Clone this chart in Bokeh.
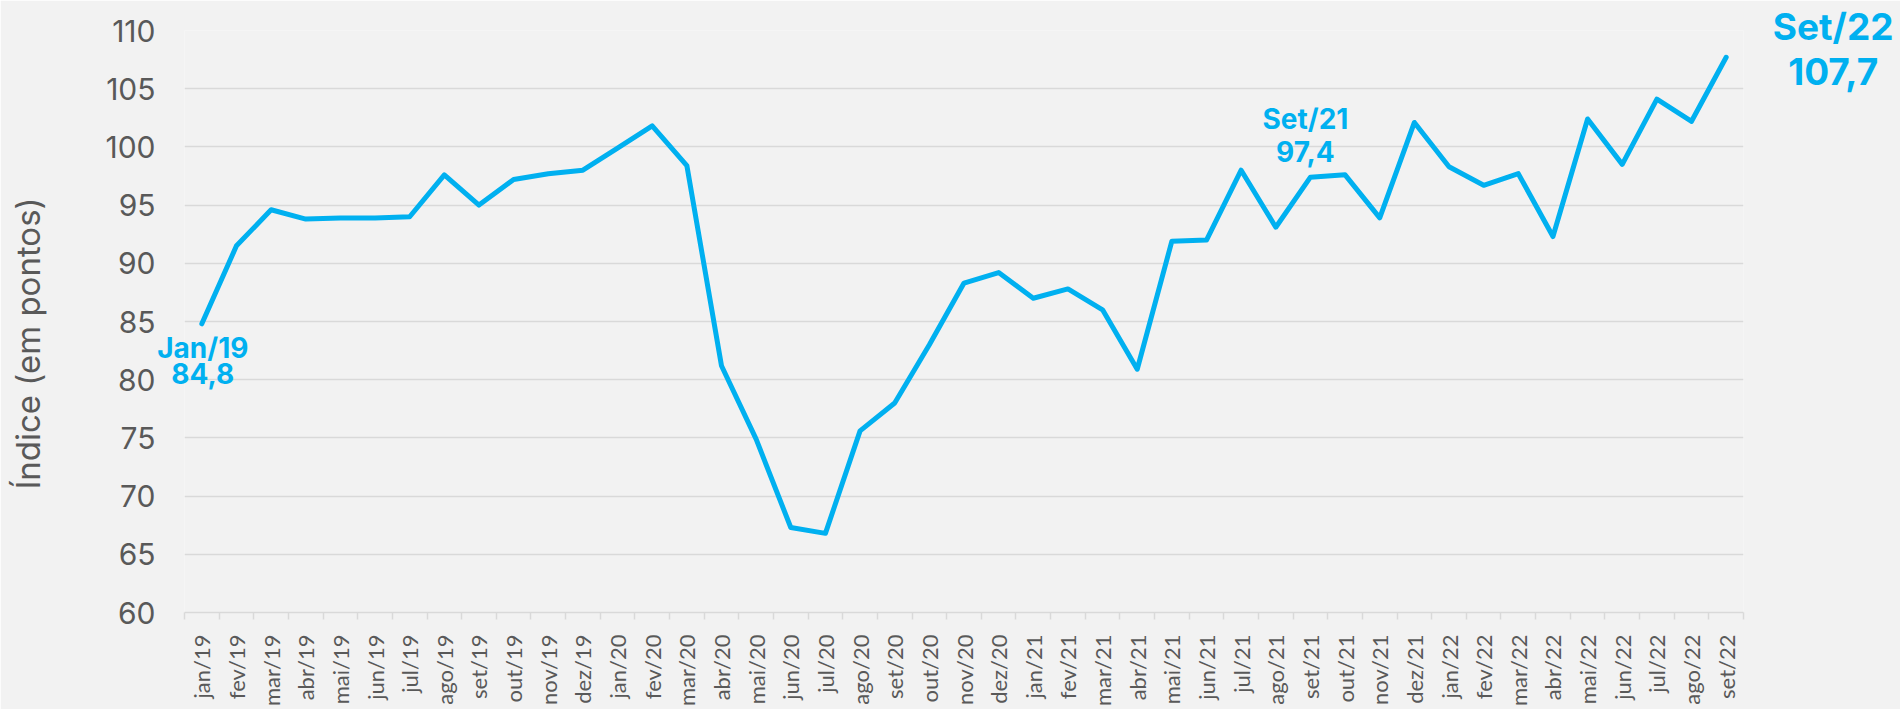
import math
from bokeh.plotting import figure
from bokeh.models import Range1d, FixedTicker
from bokeh.core.properties import value
from bokeh.embed import file_html
from bokeh.resources import INLINE

# ---------------- data ----------------
months = [
    "jan/19", "fev/19", "mar/19", "abr/19", "mai/19", "jun/19",
    "jul/19", "ago/19", "set/19", "out/19", "nov/19", "dez/19",
    "jan/20", "fev/20", "mar/20", "abr/20", "mai/20", "jun/20",
    "jul/20", "ago/20", "set/20", "out/20", "nov/20", "dez/20",
    "jan/21", "fev/21", "mar/21", "abr/21", "mai/21", "jun/21",
    "jul/21", "ago/21", "set/21", "out/21", "nov/21", "dez/21",
    "jan/22", "fev/22", "mar/22", "abr/22", "mai/22", "jun/22",
    "jul/22", "ago/22", "set/22",
]
index_values = [
    84.8, 91.5, 94.6, 93.8, 93.9, 93.9, 94.0, 97.6, 95.0, 97.2, 97.7, 98.0,
    99.9, 101.8, 98.4, 81.2, 74.9, 67.3, 66.8, 75.6, 78.0, 83.0, 88.3, 89.2,
    87.0, 87.8, 86.0, 80.9, 91.9, 92.0, 98.0, 93.1, 97.4, 97.6, 93.9, 102.1,
    98.3, 96.7, 97.7, 92.3, 102.4, 98.5, 104.1, 102.2, 107.7,
]
y_ticks = [60, 65, 70, 75, 80, 85, 90, 95, 100, 105, 110]
highlight_months = ["jan/19", "set/21", "set/22"]
y_axis_title = "Índice (em pontos)"

# ---------------- styles ----------------
BLUE = "#00B0F0"
GRAY_TXT = "#595959"
GRID = "#d9d9d9"
BG = "#f2f2f2"

n = len(months)
xs = list(range(n))

p = figure(
    width=1900, height=709,
    x_range=Range1d(-0.5, n - 0.5),
    y_range=Range1d(y_ticks[0], y_ticks[-1]),
    output_backend="svg", toolbar_location=None, tools="",
    min_border_left=184, min_border_right=157,
    min_border_top=30, min_border_bottom=96,
)
p.background_fill_color = BG
p.border_fill_color = BG
p.outline_line_color = None

# grid
p.xgrid.grid_line_color = None
p.ygrid.grid_line_color = GRID
p.ygrid.grid_line_width = 1.5

# y axis
p.yaxis.ticker = FixedTicker(ticks=y_ticks)
p.yaxis.axis_line_color = None
p.yaxis.major_tick_line_color = None
p.yaxis.minor_tick_line_color = None
p.yaxis.major_tick_out = 0
p.yaxis.major_tick_in = 0
p.yaxis.major_label_text_font = "Inter"
p.yaxis.major_label_text_font_size = "30px"
p.yaxis.major_label_text_color = GRAY_TXT
p.yaxis.major_label_standoff = 29

# y axis title: anchored at the left edge / middle of the value range,
# shifted into the left margin (slightly below centre, as in the original)
p.text(x=[p.x_range.start], y=[(y_ticks[0] + y_ticks[-1]) / 2],
       text=[y_axis_title], angle=math.pi / 2,
       x_offset=-157, y_offset=22,
       text_align="center", text_baseline="middle",
       text_font=value("Inter"), text_font_size="33px",
       text_color=GRAY_TXT, level="overlay")

# x axis: labels at category centres, tick marks at category boundaries
p.xaxis.ticker = FixedTicker(ticks=xs, minor_ticks=[i - 0.5 for i in range(n + 1)])
p.xaxis.major_label_overrides = {i: m for i, m in enumerate(months)}
p.xaxis.major_label_orientation = math.pi / 2
p.xaxis.major_tick_line_color = None
p.xaxis.major_tick_out = 0
p.xaxis.major_tick_in = 0
p.xaxis.minor_tick_line_color = GRID
p.xaxis.minor_tick_line_width = 1.5
p.xaxis.minor_tick_out = 7
p.xaxis.minor_tick_in = 0
p.xaxis.axis_line_color = GRID
p.xaxis.axis_line_width = 1.5
p.xaxis.major_label_text_font = "Lato"
p.xaxis.major_label_text_font_size = "22px"
p.xaxis.major_label_text_color = GRAY_TXT
p.xaxis.major_label_standoff = 15

# line
p.line(xs, index_values, line_color=BLUE, line_width=5,
       line_join="round", line_cap="round")

# annotations (name and value), anchored to their data points
ann_style = {
    "jan/19": dict(size="28px", dx=1, dy_name=24, dy_val=50),
    "set/21": dict(size="28px", dx=-5, dy_name=-58, dy_val=-26),
    "set/22": dict(size="37px", dx=107, dy_name=-31, dy_val=14),
}
for m in highlight_months:
    i = months.index(m)
    v = index_values[i]
    st = ann_style[m]
    name_txt = m.capitalize()
    val_txt = f"{v:.1f}".replace(".", ",")
    for txt, dy in ((name_txt, st["dy_name"]), (val_txt, st["dy_val"])):
        p.text(x=[i], y=[v], text=[txt], x_offset=st["dx"], y_offset=dy,
               text_align="center", text_baseline="alphabetic",
               text_font=value("Inter"), text_font_style="bold",
               text_font_size=st["size"], text_color=BLUE, level="overlay")

html = file_html(p, INLINE, title="Índice")
html = html.replace("<body>", '<body style="background-color:#f2f2f2;">', 1)
open("out.html", "w").write(html)
